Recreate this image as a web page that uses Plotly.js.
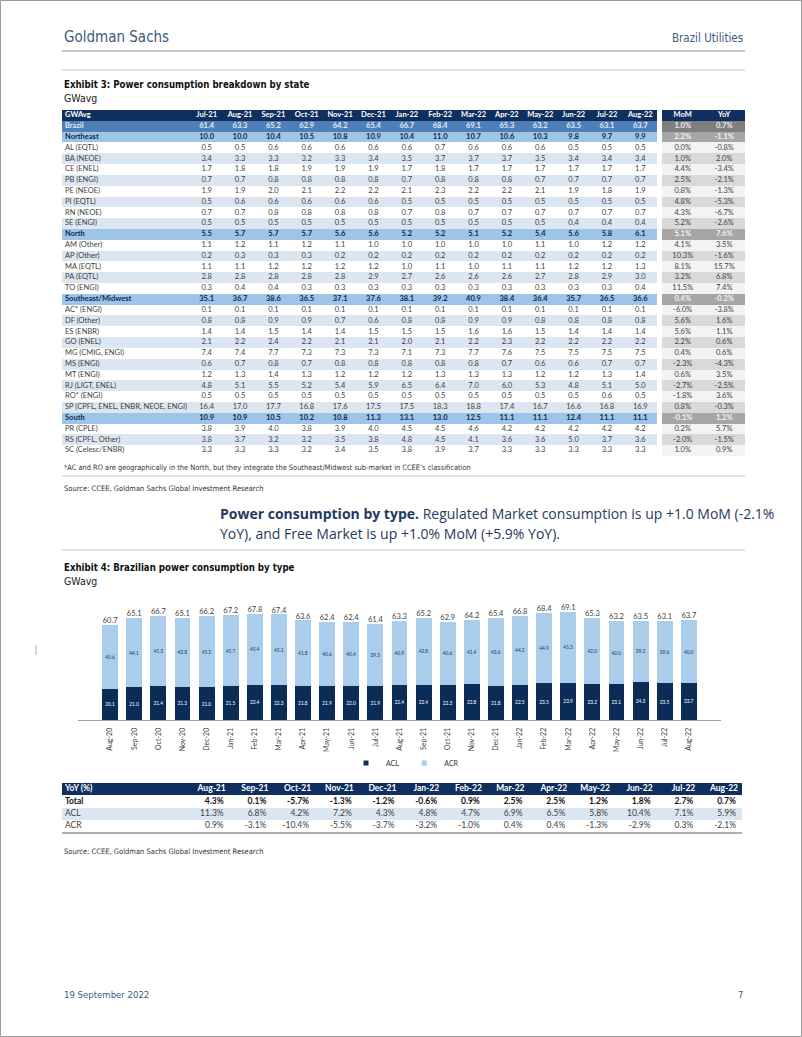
<!DOCTYPE html>
<html><head><meta charset="utf-8">
<script src="https://cdn.plot.ly/plotly-3.0.1.min.js"></script>
<style>html,body{margin:0;padding:0;background:#fff}#page{width:802px;height:1037px}</style>
</head><body><div id="page"></div>
<script>
// ---------------- Exhibit 3 data ----------------
const stateMonths = ['Jul-21','Aug-21','Sep-21','Oct-21','Nov-21','Dec-21','Jan-22','Feb-22','Mar-22','Apr-22','May-22','Jun-22','Jul-22','Aug-22'];
const statHeaders = ['MoM','YoY'];
const stateLabels = ['Brazil','Northeast','AL (EQTL)','BA (NEOE)','CE (ENEL)','PB (ENGI)','PE (NEOE)','PI (EQTL)','RN (NEOE)','SE (ENGI)',
  'North','AM (Other)','AP (Other)','MA (EQTL)','PA (EQTL)','TO (ENGI)',
  'Southeast/Midwest','AC* (ENGI)','DF (Other)','ES (ENBR)','GO (ENEL)','MG (CMIG, ENGI)','MS (ENGI)','MT (ENGI)','RJ (LIGT, ENEL)','RO* (ENGI)','SP (CPFL, ENEL, ENBR, NEOE, ENGI)',
  'South','PR (CPLE)','RS (CPFL, Other)','SC (Celesc/ENBR)'];
const stateKinds = ['total','region','sub','sub','sub','sub','sub','sub','sub','sub',
  'region','sub','sub','sub','sub','sub',
  'region','sub','sub','sub','sub','sub','sub','sub','sub','sub','sub',
  'region','sub','sub','sub'];
const brazil    = [61.4,63.3,65.2,62.9,64.2,65.4,66.7,68.4,69.1,65.3,63.2,63.5,63.1,63.7];
const northeast = [10.0,10.0,10.4,10.5,10.8,10.9,10.4,11.0,10.7,10.6,10.3,9.8,9.7,9.9];
const al  = [0.5,0.5,0.6,0.6,0.6,0.6,0.6,0.7,0.6,0.6,0.6,0.5,0.5,0.5];
const ba  = [3.4,3.3,3.3,3.2,3.3,3.4,3.5,3.7,3.7,3.7,3.5,3.4,3.4,3.4];
const ce  = [1.7,1.8,1.8,1.9,1.9,1.9,1.7,1.8,1.7,1.7,1.7,1.7,1.7,1.7];
const pb  = [0.7,0.7,0.8,0.8,0.8,0.8,0.7,0.8,0.8,0.8,0.7,0.7,0.7,0.7];
const pe  = [1.9,1.9,2.0,2.1,2.2,2.2,2.1,2.3,2.2,2.2,2.1,1.9,1.8,1.9];
const pi  = [0.5,0.6,0.6,0.6,0.6,0.6,0.5,0.5,0.5,0.5,0.5,0.5,0.5,0.5];
const rn  = [0.7,0.7,0.8,0.8,0.8,0.8,0.7,0.8,0.7,0.7,0.7,0.7,0.7,0.7];
const se  = [0.5,0.5,0.5,0.5,0.5,0.5,0.5,0.5,0.5,0.5,0.5,0.4,0.4,0.4];
const north = [5.5,5.7,5.7,5.7,5.6,5.6,5.2,5.2,5.1,5.2,5.4,5.6,5.8,6.1];
const am  = [1.1,1.2,1.1,1.2,1.1,1.0,1.0,1.0,1.0,1.0,1.1,1.0,1.2,1.2];
const ap  = [0.2,0.3,0.3,0.3,0.2,0.2,0.2,0.2,0.2,0.2,0.2,0.2,0.2,0.2];
const ma  = [1.1,1.1,1.2,1.2,1.2,1.2,1.0,1.1,1.0,1.1,1.1,1.2,1.2,1.3];
const pa  = [2.8,2.8,2.8,2.8,2.8,2.9,2.7,2.6,2.6,2.6,2.7,2.8,2.9,3.0];
const to  = [0.3,0.4,0.4,0.3,0.3,0.3,0.3,0.3,0.3,0.3,0.3,0.3,0.3,0.4];
const southeast = [35.1,36.7,38.6,36.5,37.1,37.6,38.1,39.2,40.9,38.4,36.4,35.7,36.5,36.6];
const ac  = [0.1,0.1,0.1,0.1,0.1,0.1,0.1,0.1,0.1,0.1,0.1,0.1,0.1,0.1];
const df  = [0.8,0.8,0.9,0.9,0.7,0.6,0.8,0.8,0.9,0.9,0.8,0.8,0.8,0.8];
const es  = [1.4,1.4,1.5,1.4,1.4,1.5,1.5,1.5,1.6,1.6,1.5,1.4,1.4,1.4];
const go  = [2.1,2.2,2.4,2.2,2.1,2.1,2.0,2.1,2.2,2.3,2.2,2.2,2.2,2.2];
const mg  = [7.4,7.4,7.7,7.3,7.3,7.3,7.1,7.3,7.7,7.6,7.5,7.5,7.5,7.5];
const ms  = [0.6,0.7,0.8,0.7,0.8,0.8,0.8,0.8,0.8,0.7,0.6,0.6,0.7,0.7];
const mt  = [1.2,1.3,1.4,1.3,1.2,1.2,1.2,1.3,1.3,1.3,1.2,1.2,1.3,1.4];
const rj  = [4.8,5.1,5.5,5.2,5.4,5.9,6.5,6.4,7.0,6.0,5.3,4.8,5.1,5.0];
const ro  = [0.5,0.5,0.5,0.5,0.5,0.5,0.5,0.5,0.5,0.5,0.5,0.5,0.6,0.5];
const sp  = [16.4,17.0,17.7,16.8,17.6,17.5,17.5,18.3,18.8,17.4,16.7,16.6,16.8,16.9];
const south = [10.9,10.9,10.5,10.2,10.8,11.3,13.1,13.0,12.5,11.1,11.1,12.4,11.1,11.1];
const pr  = [3.8,3.9,4.0,3.8,3.9,4.0,4.5,4.5,4.6,4.2,4.2,4.2,4.2,4.2];
const rs  = [3.8,3.7,3.2,3.2,3.5,3.8,4.8,4.5,4.1,3.6,3.6,5.0,3.7,3.6];
const sc  = [3.3,3.3,3.3,3.2,3.4,3.5,3.8,3.9,3.7,3.3,3.3,3.3,3.3,3.3];
const stateMoM = ['1.0%','2.2%','0.0%','1.0%','4.4%','2.5%','0.8%','4.8%','4.3%','5.2%',
  '5.1%','4.1%','10.3%','8.1%','3.2%','11.5%',
  '0.4%','-6.0%','5.6%','5.6%','2.2%','0.4%','-2.3%','0.6%','-2.7%','-1.8%','0.8%',
  '-0.1%','0.2%','-2.0%','1.0%'];
const stateYoY = ['0.7%','-1.1%','-0.8%','2.0%','-3.4%','-2.1%','-1.3%','-5.3%','-6.7%','-2.6%',
  '7.6%','3.5%','-1.6%','15.7%','6.8%','7.4%',
  '-0.2%','-3.8%','1.6%','1.1%','0.6%','0.6%','-4.3%','3.5%','-2.5%','3.6%','-0.3%',
  '1.2%','5.7%','-1.5%','0.9%'];

// ---------------- Exhibit 4 data ----------------
const chartMonths = ['Aug-20','Sep-20','Oct-20','Nov-20','Dec-20','Jan-21','Feb-21','Mar-21','Apr-21','May-21','Jun-21','Jul-21','Aug-21',
  'Sep-21','Oct-21','Nov-21','Dec-21','Jan-22','Feb-22','Mar-22','Apr-22','May-22','Jun-22','Jul-22','Aug-22'];
const aclValues = [20.1,21.0,21.4,21.3,21.0,21.5,22.4,22.3,21.8,21.9,22.0,21.9,22.4,22.4,22.3,22.8,21.8,22.5,23.5,23.9,23.2,23.1,24.3,23.5,23.7];
const acrValues = [40.6,44.1,45.3,43.8,45.2,45.7,45.4,45.1,41.8,40.6,40.4,39.5,40.9,42.8,40.6,41.4,43.6,44.2,44.9,45.3,42.0,40.0,39.2,39.6,40.0];
const totalValues = [60.7,65.1,66.7,65.1,66.2,67.2,67.8,67.4,63.6,62.4,62.4,61.4,63.3,65.2,62.9,64.2,65.4,66.8,68.4,69.1,65.3,63.2,63.5,63.1,63.7];

const yoyMonths = ['Aug-21','Sep-21','Oct-21','Nov-21','Dec-21','Jan-22','Feb-22','Mar-22','Apr-22','May-22','Jun-22','Jul-22','Aug-22'];
const yoyRowLabels = ['Total','ACL','ACR'];
const yoyTotal = ['4.3%','0.1%','-5.7%','-1.3%','-1.2%','-0.6%','0.9%','2.5%','2.5%','1.2%','1.8%','2.7%','0.7%'];
const yoyAcl   = ['11.3%','6.8%','4.2%','7.2%','4.3%','4.8%','4.7%','6.9%','6.5%','5.8%','10.4%','7.1%','5.9%'];
const yoyAcr   = ['0.9%','-3.1%','-10.4%','-5.5%','-3.7%','-3.2%','-1.0%','0.4%','0.4%','-1.3%','-2.9%','0.3%','-2.1%'];

// ---------------- layout helpers ----------------
const W = 802, H = 1037;
const X = p => p / W;
const Y = p => 1 - p / H;
const COND = "'Liberation Sans Narrow', 'Arial Narrow', 'DejaVu Sans Condensed', 'Roboto Condensed', Roboto, sans-serif";
const BODY = "'Open Sans', 'Liberation Sans', Arial, sans-serif";
const TBL = "Lato, 'Open Sans', sans-serif";
const ACL_C = '#0c2c58';
const ACR_C = '#a9cdea';
const HEAD_C = '#3d5a80';

const stateValues = [brazil,northeast,al,ba,ce,pb,pe,pi,rn,se,north,am,ap,ma,pa,to,southeast,ac,df,es,go,mg,ms,mt,rj,ro,sp,south,pr,rs,sc];

const traces = [];

// ---------------- Table 1 (heatmap cells + text) ----------------
const T1 = {left:62, labelRight:190, monthRight:657, statLeft:662, right:745, top:110, bottom:456};
const nRows1 = stateLabels.length + 1;
const RH1 = (T1.bottom - T1.top) / nRows1;
const MW1 = (T1.monthRight - T1.labelRight) / stateMonths.length;
const SW1 = (T1.right - T1.statLeft) / statHeaders.length;
const t1x = [T1.left, T1.labelRight];
stateMonths.forEach((m, j) => t1x.push(T1.labelRight + (j + 1) * MW1));
t1x.push(T1.statLeft);
statHeaders.forEach((m, k) => t1x.push(T1.statLeft + (k + 1) * SW1));
const t1y = [];
for (let i = 0; i <= nRows1; i++) t1y.push(T1.top + i * RH1);

const palette = ['#0f2f5e','#4f7fb9','#9ec4e7','#ffffff','#dce6f1','#0f2f5e','#7f7f7f','#a6a6a6','#f3f3f3','#d9d9d9'];
const cscale = [];
palette.forEach((c, i) => { cscale.push([i / palette.length, c]); cscale.push([(i + 1) / palette.length, c]); });

const z1 = [];
const nMain = 1 + stateMonths.length;
z1.push([...Array(nMain).fill(0), null, 5, 5]);
let alt = 0;
stateKinds.forEach((k) => {
  let mainCode, statCode;
  if (k === 'total') { mainCode = 1; statCode = 6; alt = 0; }
  else if (k === 'region') { mainCode = 2; statCode = 7; alt = 0; }
  else { mainCode = alt % 2 === 0 ? 3 : 4; statCode = alt % 2 === 0 ? 8 : 9; alt++; }
  z1.push([...Array(nMain).fill(mainCode), null, statCode, statCode]);
});
traces.push({type:'heatmap', x:t1x, y:t1y, z:z1, xaxis:'x2', yaxis:'y2', colorscale:cscale,
  zmin:-0.5, zmax:palette.length - 0.5, showscale:false, hoverinfo:'skip', xgap:0, ygap:0});

const c1x = [], c1y = [], c1t = [], c1c = [];
const l1x = [], l1y = [], l1t = [], l1c = [];
const rowC = r => T1.top + (r + 0.5) * RH1;
l1x.push(T1.left + 3); l1y.push(rowC(0)); l1t.push('<b>GWAvg</b>'); l1c.push('#ffffff');
stateMonths.forEach((m, j) => { c1x.push(T1.labelRight + (j + 0.5) * MW1); c1y.push(rowC(0)); c1t.push('<b>' + m + '</b>'); c1c.push('#ffffff'); });
statHeaders.forEach((m, k) => { c1x.push(T1.statLeft + (k + 0.5) * SW1); c1y.push(rowC(0)); c1t.push('<b>' + m + '</b>'); c1c.push('#ffffff'); });
stateLabels.forEach((lab, i) => {
  const r = i + 1, k = stateKinds[i];
  const bold = k !== 'sub';
  const col = k === 'total' ? '#e3ebf5' : (k === 'region' ? '#0f2a52' : '#3f3f3f');
  const scol = k === 'total' ? '#eeeeee' : (k === 'region' ? '#f4f4f4' : '#3f3f3f');
  const wrap = s => bold ? '<b>' + s + '</b>' : s;
  l1x.push(T1.left + 3); l1y.push(rowC(r)); l1t.push(wrap(lab)); l1c.push(col);
  stateValues[i].forEach((v, j) => { c1x.push(T1.labelRight + (j + 0.5) * MW1); c1y.push(rowC(r)); c1t.push(wrap(v.toFixed(1))); c1c.push(col); });
  [stateMoM[i], stateYoY[i]].forEach((v, kk) => { c1x.push(T1.statLeft + (kk + 0.5) * SW1); c1y.push(rowC(r)); c1t.push(wrap(v)); c1c.push(scol); });
});
traces.push({type:'scatter', mode:'text', x:c1x, y:c1y, text:c1t, textposition:'middle center',
  textfont:{family:TBL, size:7.5, color:c1c}, xaxis:'x2', yaxis:'y2', hoverinfo:'skip', showlegend:false, cliponaxis:false});
traces.push({type:'scatter', mode:'text', x:l1x, y:l1y, text:l1t, textposition:'middle right',
  textfont:{family:TBL, size:7.5, color:l1c}, xaxis:'x2', yaxis:'y2', hoverinfo:'skip', showlegend:false, cliponaxis:false});

// ---------------- Bar chart ----------------
traces.push({type:'bar', name:'ACL', legendgroup:'acl', showlegend:false, x:chartMonths, y:aclValues, marker:{color:ACL_C},
  text:aclValues.map(v => v.toFixed(1)), textposition:'inside', insidetextanchor:'middle', textangle:0,
  textfont:{family:TBL, size:6, color:'#ffffff'}, hoverinfo:'skip'});
traces.push({type:'bar', name:'ACR', legendgroup:'acr', showlegend:false, x:chartMonths, y:acrValues, marker:{color:ACR_C},
  text:acrValues.map(v => v.toFixed(1)), textposition:'inside', insidetextanchor:'middle', textangle:0,
  textfont:{family:TBL, size:6, color:'#1f3a60'}, hoverinfo:'skip'});
traces.push({type:'scatter', mode:'text', x:chartMonths, y:totalValues, text:totalValues.map(v => v.toFixed(1)),
  textposition:'top center', textfont:{family:TBL, size:7.5, color:'#404040'}, showlegend:false, hoverinfo:'skip', cliponaxis:false});
// legend keys (small squares like the original)
traces.push({type:'scatter', mode:'markers', name:'ACL', legendgroup:'acl', x:[null], y:[null],
  marker:{symbol:'square', size:5, color:ACL_C}, hoverinfo:'skip'});
traces.push({type:'scatter', mode:'markers', name:'ACR', legendgroup:'acr', x:[null], y:[null],
  marker:{symbol:'square', size:5, color:ACR_C}, hoverinfo:'skip'});

// ---------------- YoY table ----------------
const T3 = {left:62, labelRight:187, right:742, top:783, bottom:832};
const nRows3 = yoyRowLabels.length + 1;
const RH3 = (T3.bottom - T3.top) / nRows3;
const CW3 = (T3.right - T3.labelRight) / yoyMonths.length;
const t3x = [T3.left, T3.labelRight];
yoyMonths.forEach((m, j) => t3x.push(T3.labelRight + (j + 1) * CW3));
const t3y = [];
for (let i = 0; i <= nRows3; i++) t3y.push(T3.top + i * RH3);
const yoyRowCodes = [0, 3, 4, 3];
const z3 = yoyRowCodes.map(c => Array(yoyMonths.length + 1).fill(c));
traces.push({type:'heatmap', x:t3x, y:t3y, z:z3, xaxis:'x3', yaxis:'y3', colorscale:cscale,
  zmin:-0.5, zmax:palette.length - 0.5, showscale:false, hoverinfo:'skip', xgap:0, ygap:0});
const yoyRows = [yoyTotal, yoyAcl, yoyAcr];
const c3x = [], c3y = [], c3t = [], c3c = [];
const l3x = [], l3y = [], l3t = [], l3c = [];
const row3C = r => T3.top + (r + 0.5) * RH3;
l3x.push(T3.left + 3); l3y.push(row3C(0)); l3t.push('<b>YoY (%)</b>'); l3c.push('#ffffff');
yoyMonths.forEach((m, j) => { c3x.push(T3.labelRight + (j + 1) * CW3 - 4); c3y.push(row3C(0)); c3t.push('<b>' + m + '</b>'); c3c.push('#ffffff'); });
yoyRows.forEach((vals, i) => {
  const bold = i === 0;
  const wrap = s => bold ? '<b>' + s + '</b>' : s;
  const col = bold ? '#111111' : '#3f3f3f';
  l3x.push(T3.left + 3); l3y.push(row3C(i + 1)); l3t.push(wrap(yoyRowLabels[i])); l3c.push(col);
  vals.forEach((v, j) => { c3x.push(T3.labelRight + (j + 1) * CW3 - 6); c3y.push(row3C(i + 1)); c3t.push(wrap(v)); c3c.push(col); });
});
traces.push({type:'scatter', mode:'text', x:c3x, y:c3y, text:c3t, textposition:'middle left',
  textfont:{family:TBL, size:8.5, color:c3c}, xaxis:'x3', yaxis:'y3', hoverinfo:'skip', showlegend:false, cliponaxis:false});
traces.push({type:'scatter', mode:'text', x:l3x, y:l3y, text:l3t, textposition:'middle right',
  textfont:{family:TBL, size:8.5, color:l3c}, xaxis:'x3', yaxis:'y3', hoverinfo:'skip', showlegend:false, cliponaxis:false});

// ---------------- page text ----------------
const ann = (x, y, text, size, opts = {}) => Object.assign({xref:'paper', yref:'paper', x:X(x), y:Y(y), text, showarrow:false,
  xanchor:'left', yanchor:'middle', font:{family:COND, size, color:'#111'}}, opts);
const annotations = [
  ann(62, 37, 'Goldman Sachs', 15, {font:{family:COND, size:15, color:HEAD_C}}),
  ann(745, 38, 'Brazil Utilities', 11.5, {xanchor:'right', font:{family:COND, size:11.5, color:HEAD_C}}),
  ann(62, 84, '<b>Exhibit 3: Power consumption breakdown by state</b>', 9.6),
  ann(62, 98, 'GWavg', 10.5, {font:{family:COND, size:10.5, color:'#222'}}),
  ann(62, 468, '*AC and RO are geographically in the North, but they integrate the Southeast/Midwest sub-market in CCEE\u2019s classification', 7.4, {font:{family:COND, size:7.4, color:'#333'}}),
  ann(62, 489, 'Source: CCEE, Goldman Sachs Global Investment Research', 7.5, {font:{family:COND, size:7.5, color:'#333'}}),
  ann(218, 513, '<b>Power consumption by type.</b> Regulated Market consumption is up +1.0 MoM (-2.1%', 14, {font:{family:BODY, size:14, color:'#1f3a60'}}),
  ann(218, 533, 'YoY), and Free Market is up +1.0% MoM (+5.9% YoY).', 14, {font:{family:BODY, size:14, color:'#1f3a60'}}),
  ann(62, 567, '<b>Exhibit 4: Brazilian power consumption by type</b>', 9.6),
  ann(62, 581, 'GWavg', 10.5, {font:{family:COND, size:10.5, color:'#222'}}),
  ann(62, 851, 'Source: CCEE, Goldman Sachs Global Investment Research', 7.5, {font:{family:COND, size:7.5, color:'#333'}}),
  ann(62, 994, '19 September 2022', 9.5, {font:{family:COND, size:9.5, color:HEAD_C}}),
  ann(745, 994, '7', 9.5, {xanchor:'right', font:{family:COND, size:9.5, color:HEAD_C}})
];
const hline = (x0, x1, y, color, width) => ({type:'line', xref:'paper', yref:'paper', x0:X(x0), x1:X(x1), y0:Y(y), y1:Y(y), line:{color, width}});
const shapes = [
  {type:'rect', xref:'paper', yref:'paper', x0:0.0006, x1:0.9994, y0:0.0005, y1:0.9995, line:{color:'#9a9a9a', width:1}},
  hline(62, 745, 51, '#b5b5b5', 1.5),
  hline(62, 745, 70, '#c8c8c8', 1),
  hline(62, 745, 476, '#c8c8c8', 1),
  hline(62, 745, 550, '#c8c8c8', 1),
  hline(62, 742, 833, '#606060', 1),
  {type:'line', xref:'paper', yref:'paper', x0:X(36), x1:X(36), y0:Y(645), y1:Y(655), line:{color:'#b0b0b0', width:1}}
];

const layout = {
  width:W, height:H, margin:{l:0, r:0, t:0, b:0}, paper_bgcolor:'#ffffff', plot_bgcolor:'rgba(0,0,0,0)',
  showlegend:true, barmode:'stack', bargap:0.34,
  legend:{orientation:'h', x:X(405), xanchor:'center', y:Y(763), yanchor:'middle', font:{family:TBL, size:7, color:'#333'},
    itemwidth:30, bgcolor:'rgba(0,0,0,0)', traceorder:'normal'},
  xaxis:{domain:[X(78), X(721)], type:'category', tickangle:-90, tickfont:{family:TBL, size:7, color:'#404040'},
    showline:true, linecolor:'#a0a0a0', linewidth:1, ticks:'', ticklabelstandoff:4, showgrid:false, zeroline:false, fixedrange:true},
  yaxis:{domain:[Y(720), Y(602.6)], range:[0, 75], visible:false, fixedrange:true},
  xaxis2:{domain:[X(T1.left), X(T1.right)], range:[T1.left, T1.right], visible:false, fixedrange:true},
  yaxis2:{domain:[Y(T1.bottom), Y(T1.top)], range:[T1.bottom, T1.top], visible:false, fixedrange:true},
  xaxis3:{domain:[X(T3.left), X(T3.right)], range:[T3.left, T3.right], visible:false, fixedrange:true},
  yaxis3:{domain:[Y(T3.bottom), Y(T3.top)], range:[T3.bottom, T3.top], visible:false, fixedrange:true},
  annotations, shapes
};
Plotly.newPlot('page', traces, layout, {staticPlot:true, displayModeBar:false});
</script>
</body></html>
